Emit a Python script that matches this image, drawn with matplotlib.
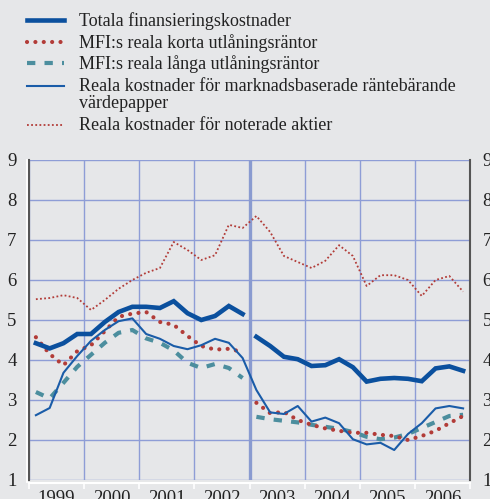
import numpy as np
import matplotlib
matplotlib.use('Agg')
import matplotlib.pyplot as plt
from matplotlib.lines import Line2D

plt.rcParams['font.family'] = ['Liberation Serif', 'DejaVu Serif']

# quarterly data 1999Q1 - 2006Q4, series with a break between 2002 and 2003
years = ['1999', '2000', '2001', '2002', '2003', '2004', '2005', '2006']
totala = [4.42, 4.29, 4.42, 4.65, 4.65, 4.95, 5.2, 5.33, 5.33, 5.3, 5.47, 5.17, 5.0, 5.1, 5.35, 5.15,
          4.58, 4.35, 4.08, 4.02, 3.85, 3.87, 4.02, 3.82, 3.46, 3.53, 3.55, 3.53, 3.47, 3.79, 3.84, 3.73]
mfi_korta = [4.57, 4.15, 3.87, 4.22, 4.37, 4.72, 5.08, 5.16, 5.2, 4.95, 4.88, 4.6, 4.35, 4.26, 4.28, 4.2,
             2.93, 2.67, 2.7, 2.5, 2.38, 2.29, 2.23, 2.18, 2.18, 2.13, 2.1, 2.0, 2.1, 2.23, 2.42, 2.6]
mfi_langa = [3.2, 3.04, 3.43, 3.83, 4.13, 4.43, 4.68, 4.75, 4.54, 4.43, 4.24, 3.93, 3.8, 3.9, 3.8, 3.55,
             2.58, 2.52, 2.48, 2.44, 2.38, 2.33, 2.28, 2.2, 2.08, 2.02, 2.06, 2.15, 2.3, 2.45, 2.6, 2.63]
vardepapper = [2.62, 2.8, 3.68, 4.1, 4.48, 4.75, 4.97, 5.04, 4.65, 4.53, 4.35, 4.27, 4.37, 4.53, 4.43, 4.05,
               3.25, 2.69, 2.65, 2.85, 2.46, 2.56, 2.42, 2.02, 1.89, 1.93, 1.75, 2.15, 2.42, 2.79, 2.85, 2.79]
aktier = [5.52, 5.55, 5.62, 5.55, 5.25, 5.5, 5.78, 6.0, 6.18, 6.3, 6.95, 6.75, 6.5, 6.62, 7.38, 7.3,
          7.6, 7.2, 6.6, 6.45, 6.3, 6.48, 6.87, 6.6, 5.85, 6.12, 6.12, 6.0, 5.6, 6.0, 6.1, 5.71]
labels = ['Totala finansieringskostnader',
          'MFI:s reala korta utlåningsräntor',
          'MFI:s reala långa utlåningsräntor',
          'Reala kostnader för marknadsbaserade räntebärande\nvärdepapper',
          'Reala kostnader för noterade aktier']

bg = '#e6e7e9'
blue_thick = '#0b509e'
blue_thin = '#1a5ca8'
red = '#b23c38'
teal = '#4c8e9e'
grid = '#8e9dd6'

W, H = 490, 499
fig = plt.figure(figsize=(W / 100, H / 100), dpi=100, facecolor=bg)
ax = fig.add_axes([29 / W, 1 - 480 / H, 441 / W, 320 / H], facecolor=bg)

q = 1999 + (np.arange(32) + 0.5) / 4

dot_style = (0, (0.01, 2.0))
dash_style = (0, (2.0, 2.2))
for part in (slice(0, 16), slice(16, 32)):
    ax.plot(q[part], mfi_langa[part], color=teal, lw=3.0, linestyle=dash_style, dash_capstyle='butt', zorder=3)
    ax.plot(q[part], mfi_korta[part], color=red, lw=3.0, linestyle=dot_style, dash_capstyle='round', zorder=4)
    ax.plot(q[part], totala[part], color=blue_thick, lw=3.3, solid_joinstyle='miter', zorder=6)
ax.plot(q, vardepapper, color=blue_thin, lw=1.5, zorder=5)
ax.plot(q, aktier, color=red, lw=1.3, linestyle=(0, (1, 1.3)), zorder=4)

# break between 2002 and 2003
ax.axvline(2003, color='#8a9bd0', lw=2.4, zorder=2)

ax.set_xlim(1999, 2007)
ax.set_ylim(1, 9)
ax.set_yticks(range(1, 10))
ax.set_xticks(range(1999, 2008))
ax.set_xticklabels([])
ax.set_xticks(np.arange(1999.5, 2007, 1), minor=True)
ax.set_xticklabels(years, minor=True)
ax.grid(True, which='major', color=grid, lw=1.0, zorder=1)
ax.set_axisbelow(True)

ax.tick_params(axis='y', length=0, labelsize=13.5, pad=9, labelright=True, colors='#222222')
ax.tick_params(axis='x', which='major', length=4, width=1.2, color='white', direction='out')
ax.tick_params(axis='x', which='minor', length=0, labelsize=13.5, pad=5, colors='#222222')

ax.spines['top'].set_visible(False)
ax.spines['left'].set_color('#555555')
ax.spines['left'].set_linewidth(1.5)
ax.spines['right'].set_color('#555555')
ax.spines['right'].set_linewidth(1.5)
ax.spines['bottom'].set_color('white')
ax.spines['bottom'].set_linewidth(1.5)
ax.spines['bottom'].set_position(('outward', 2))
fig.add_artist(Line2D([26.5 / W, 26.5 / W], [1 - 482 / H, 1 - 160 / H], color='white', lw=1.3))

# legend drawn by hand in pixel positions
styles = [dict(color=blue_thick, lw=3.3),
          dict(color=red, lw=3.0, linestyle=dot_style, dash_capstyle='round'),
          dict(color=teal, lw=3.0, linestyle=dash_style, dash_capstyle='butt'),
          dict(color=blue_thin, lw=1.5),
          dict(color=red, lw=1.3, linestyle=(0, (1, 1.3)))]
rows = [20, 42, 63, 86, 125]
for y, st, lab in zip(rows, styles, labels):
    fig.add_artist(Line2D([27 / W, 64 / W], [1 - y / H, 1 - y / H], **st))
    fig.text(79 / W, 1 - (y - 8) / H, lab, fontsize=13, color='#222222', va='top', linespacing=0.98)

fig.savefig('out.png', dpi=100, facecolor=bg)
